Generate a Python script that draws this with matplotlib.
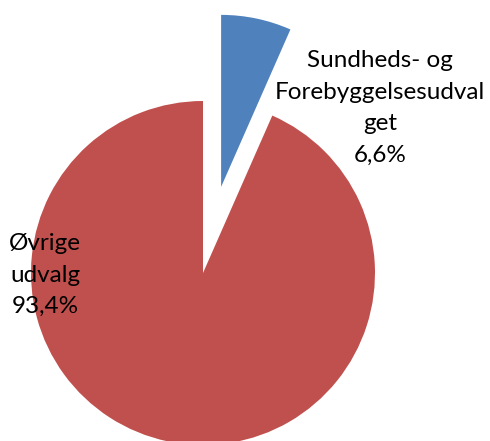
import matplotlib
matplotlib.use("Agg")
import matplotlib.pyplot as plt

# share of budget
labels = ["Sundheds- og\nForebyggelsesudval\nget", "Øvrige\nudvalg"]
values = [6.6, 93.4]
pct_text = ["6,6%", "93,4%"]
colors = ["#4F81BD", "#C0504D"]
explode = [88, 0]  # pie explode is in data units here

plt.rcParams['font.family'] = ['Lato', 'DejaVu Sans']

fig = plt.figure(figsize=(4.9, 4.41), dpi=100)
ax = fig.add_axes([0, 0, 1, 1])

ax.pie(values, colors=colors, explode=explode, startangle=90,
       counterclock=False, radius=172, center=(203, 168),
       wedgeprops=dict(linewidth=0))

ax.set_xlim(0, 490)
ax.set_ylim(0, 441)
ax.set_aspect('equal')
ax.axis('off')

# data labels
label_pos = [(380, 333), (45, 166)]
for lab, pct, (x, y) in zip(labels, pct_text, label_pos):
    ax.text(x, y, lab + "\n" + pct, ha='center', va='center',
            fontsize=17.5, linespacing=1.63, color='black')

fig.savefig("out.png", dpi=100)
